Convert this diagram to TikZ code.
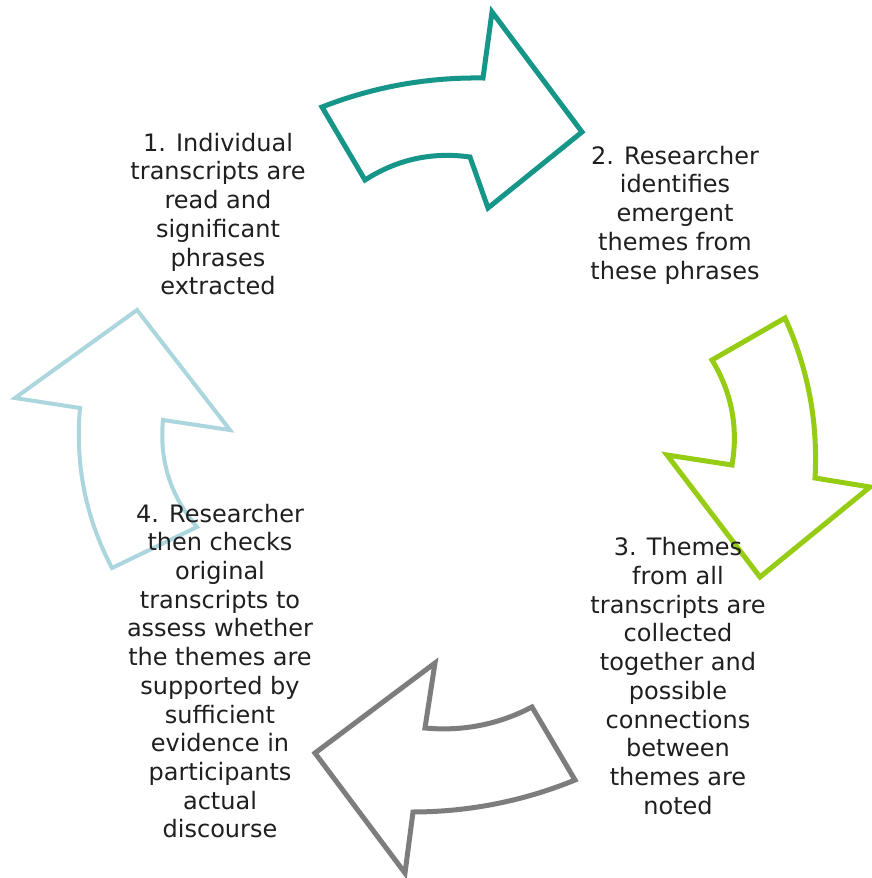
\documentclass[tikz,border=0pt]{standalone}
\usepackage{fontspec}
\setmainfont{DejaVu Sans}
\definecolor{stepteal}{RGB}{22,150,136}
\definecolor{stepgreen}{RGB}{150,204,20}
\definecolor{stepgrey}{RGB}{125,125,125}
\definecolor{steplight}{RGB}{172,214,222}
\begin{document}
\begin{tikzpicture}[x=1pt,y=-1pt,
  cyclearrow/.style={line width=5pt, line join=miter, fill=white},
  steptext/.style={align=center, font=\fontsize{24}{28.7}\selectfont, text=black!88, inner sep=0pt}]
\useasboundingbox (0,0) rectangle (872,878);
\fill[white] (0,0) rectangle (872,878);

% step 1 -> 2 (teal)
\draw[cyclearrow, draw=stepteal] (322,107) .. controls (373.8,86.8) and (427.4,77.2) .. (483,78)
  -- (492,12) -- (582,132) -- (488,208) -- (470,157)
  .. controls (432.2,151.7) and (397.2,159.3) .. (365,180) -- cycle;
% step 2 -> 3 (green)
\draw[cyclearrow, draw=stepgreen] (712,360) -- (785,318)
  .. controls (808.1,368.8) and (818.1,422.2) .. (815,478)
  -- (870,487) -- (760,577) -- (667,455) -- (732,465)
  .. controls (738.4,427.5) and (731.8,392.5) .. (712,360) -- cycle;
% step 3 -> 4 (grey)
\draw[cyclearrow, draw=stepgrey] (532,707) -- (575,780)
  .. controls (523.1,801.2) and (469.1,811.8) .. (413,812)
  -- (405,873) -- (315,753) -- (435,663) -- (425,728)
  .. controls (462.8,731.5) and (498.4,724.5) .. (532,707) -- cycle;
% step 4 -> 1 (light blue)
\draw[cyclearrow, line width=4pt, draw=steplight] (137,310) -- (230,430) -- (163,420)
  .. controls (159.1,460.5) and (170.5,496.1) .. (197,527) -- (112,568)
  .. controls (85.6,517.8) and (75,464.4) .. (80,408) -- (15,398) -- cycle;

\node[steptext] (s1) at (218,214) {1. Individual\\transcripts are\\read and\\significant\\phrases\\extracted};
\node[steptext] (s2) at (675,215) {2. Researcher\\identifies\\emergent\\themes from\\these phrases};
\node[steptext] (s3) at (678,676) {3. Themes\\from all\\transcripts are\\collected\\together and\\possible\\connections\\between\\themes are\\noted};
\node[steptext] (s4) at (220,671) {4. Researcher\\then checks\\original\\transcripts to\\assess whether\\the themes are\\supported by\\sufficient\\evidence in\\participants\\actual\\discourse};
\end{tikzpicture}
\end{document}
